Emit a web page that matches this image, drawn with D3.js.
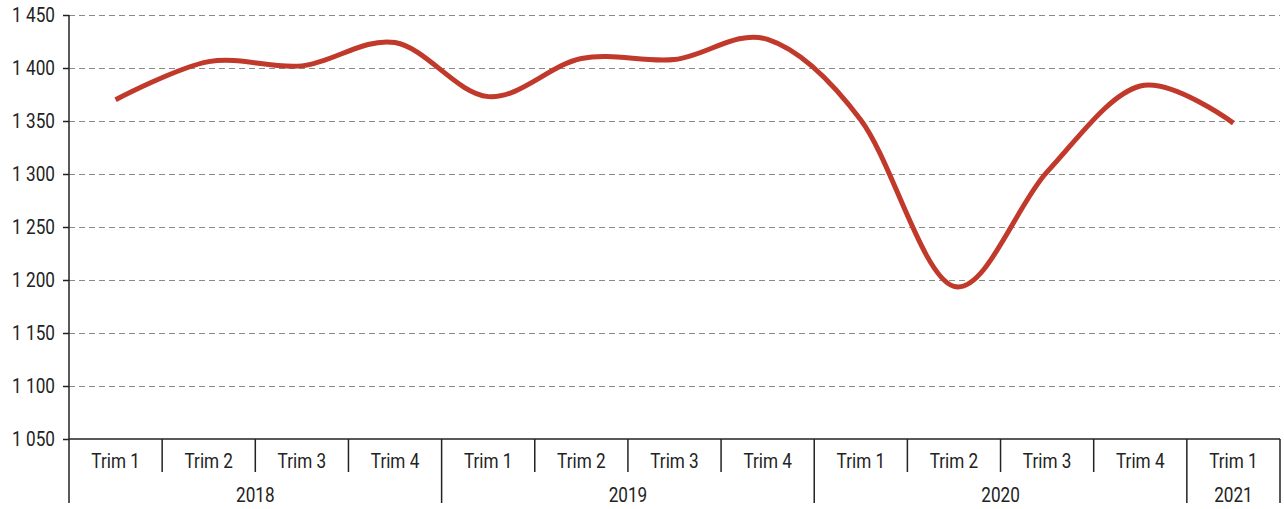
<!DOCTYPE html>
<html>
<head>
<meta charset="utf-8">
<script src="https://cdn.jsdelivr.net/npm/d3@7"></script>
<style>
  body { margin: 0; background: #fff; }
  svg { display: block; }
  text { font-family: "Roboto", sans-serif; fill: #222; }
</style>
</head>
<body>
<div id="chart"></div>
<script>
// data
let years = ["2018", "2019", "2020", "2021"];
let quarters = ["Trim 1", "Trim 2", "Trim 3", "Trim 4", "Trim 1", "Trim 2", "Trim 3", "Trim 4",
    "Trim 1", "Trim 2", "Trim 3", "Trim 4", "Trim 1"];
let quarterYear = ["2018", "2018", "2018", "2018", "2019", "2019", "2019", "2019",
    "2020", "2020", "2020", "2020", "2021"];
let values = [1370, 1406, 1402, 1424, 1373, 1409, 1408, 1427, 1351, 1194, 1302, 1383, 1348];
let yTicks = [1050, 1100, 1150, 1200, 1250, 1300, 1350, 1400, 1450];

let W = 1284, H = 509;
let margin = {top: 15, right: 4, bottom: 70, left: 69};
let width = W - margin.left - margin.right;
let height = H - margin.top - margin.bottom;
let squeeze = 0.88; // narrow the font to look condensed
let fs = "19.5px";

let svg = d3.select("#chart").append("svg")
    .attr("width", W)
    .attr("height", H);
let g = svg.append("g")
    .attr("transform", "translate(" + margin.left + "," + margin.top + ")");

let idx = values.map((d, i) => i);
let x = d3.scaleBand().domain(idx).range([0, width]);
let y = d3.scaleLinear().domain([1050, 1450]).range([height, 0]);

let fmt = d3.formatLocale({decimal: ",", thousands: " ", grouping: [3], currency: ["", ""]}).format(",");

// gridlines
g.append("g")
    .selectAll("line")
    .data(yTicks.filter(t => t > 1050))
    .enter().append("line")
    .attr("x1", 0).attr("x2", width)
    .attr("y1", d => Math.round(y(d)) + 0.5)
    .attr("y2", d => Math.round(y(d)) + 0.5)
    .attr("stroke", "#8a8a8a")
    .attr("stroke-width", 1)
    .attr("stroke-dasharray", "6,4");

// y axis
let yAxis = g.append("g")
    .call(d3.axisLeft(y).tickValues(yTicks).tickSize(6).tickPadding(8).tickFormat(fmt));
yAxis.select(".domain").remove();
yAxis.selectAll(".tick line").attr("stroke", "#222").attr("stroke-width", 1.5);
yAxis.selectAll("text")
    .attr("x", -16)
    .attr("transform", "scale(" + squeeze + ",1)")
    .style("font-size", fs).attr("fill", "#222");

// vertical y axis line down to bottom of category axis
g.append("line")
    .attr("x1", 0).attr("x2", 0)
    .attr("y1", 0).attr("y2", height + 64)
    .attr("stroke", "#222").attr("stroke-width", 1.5);

// baseline
g.append("line")
    .attr("x1", 0).attr("x2", width)
    .attr("y1", height).attr("y2", height)
    .attr("stroke", "#222").attr("stroke-width", 1.5);

// quarter separators and labels
let bw = x.bandwidth();
g.append("g")
    .selectAll("line")
    .data(idx.slice(1).concat([idx.length]))
    .enter().append("line")
    .attr("x1", d => d < idx.length ? x(d) : width)
    .attr("x2", d => d < idx.length ? x(d) : width)
    .attr("y1", height)
    .attr("y2", d => (d === idx.length || quarterYear[d] !== quarterYear[d - 1]) ? height + 64 : height + 33)
    .attr("stroke", "#222").attr("stroke-width", 1.5);

g.append("g")
    .selectAll("text")
    .data(quarters)
    .enter().append("text")
    .attr("transform", (d, i) => "translate(" + (x(i) + bw / 2) + "," + (height + 29) + ") scale(" + squeeze + ",1)")
    .attr("text-anchor", "middle")
    .style("font-size", fs)
    .text(d => d);

// year labels
g.append("g")
    .selectAll("text")
    .data(years)
    .enter().append("text")
    .attr("transform", yr => {
        let ii = idx.filter(i => quarterYear[i] === yr);
        let cx = (x(ii[0]) + x(ii[ii.length - 1]) + bw) / 2;
        return "translate(" + cx + "," + (height + 63) + ") scale(" + squeeze + ",1)";
    })
    .attr("text-anchor", "middle")
    .style("font-size", fs)
    .text(d => d);

// the line
let line = d3.line()
    .x((d, i) => x(i) + bw / 2)
    .y(d => y(d))
    .curve(d3.curveCardinal.tension(0));

g.append("path")
    .datum(values)
    .attr("fill", "none")
    .attr("stroke", "#c0392b")
    .attr("stroke-width", 5)
    .attr("d", line);
</script>
</body>
</html>
